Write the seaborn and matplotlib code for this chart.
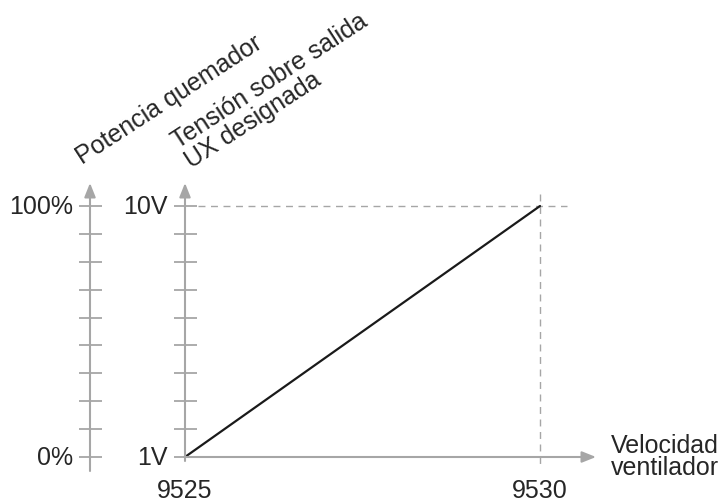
import numpy as np
import pandas as pd
import seaborn as sns
import matplotlib
matplotlib.use("Agg")
import matplotlib.pyplot as plt

# data
speed = [9525, 9530]
voltage = [1, 10]
volt_ticks = list(range(1, 11))
volt_labels = {1: "1V", 10: "10V"}
power_labels = {1: "0%", 10: "100%"}
speed_labels = ["9525", "9530"]

sns.set_theme(style="white")
plt.rcParams['font.family'] = ['Liberation Sans', 'DejaVu Sans']

W, H = 727, 502
fig = plt.figure(figsize=(W / 100, H / 100), dpi=100)
ax = fig.add_axes([0, 0, 1, 1])

# pixel -> data mapping (x: 71 px per rpm step, y: 27.9 px per volt)
sx = 355 / 5
sy = 251 / 9
x0 = speed[0] - 185 / sx
y_top = voltage[0] + 458 / sy
ax.set_xlim(x0, x0 + W / sx)
ax.set_ylim(y_top - H / sy, y_top)
ax.axis("off")

def px(x):
    return x0 + x / sx

def py(y):
    return y_top - y / sy

gray = "#a6a6a6"
fs = 18
arrow = dict(arrowstyle="-|>,head_length=0.7,head_width=0.28", color=gray,
             lw=1.5, mutation_scale=12, shrinkA=0, shrinkB=0)

# power axis (left)
xa = px(90)
ax.annotate("", xy=(xa, py(184)), xytext=(xa, py(472)), arrowprops=arrow)
# voltage axis
xb = speed[0]
ax.annotate("", xy=(xb, py(184)), xytext=(xb, py(462)), arrowprops=arrow)
# speed axis
ax.annotate("", xy=(px(596), voltage[0]), xytext=(xb, voltage[0]), arrowprops=arrow)

half = 11.5 / sx
ax.hlines(volt_ticks, xa - half, xa + half, color=gray, lw=1.3)
ax.hlines(volt_ticks, xb - half, xb + half, color=gray, lw=1.3)

# dashed guides
ax.plot([xb + half + 0.02, px(567)], [voltage[1], voltage[1]], color=gray,
        lw=1, dashes=(5, 4))
ax.plot([speed[1], speed[1]], [py(195), py(469)], color=gray, lw=1, dashes=(5, 4))

# characteristic line
df = pd.DataFrame({"speed": speed, "voltage": voltage})
sns.lineplot(data=df, x="speed", y="voltage", ax=ax, color="#1a1a1a", lw=1.6)

# tick labels
for v, lab in power_labels.items():
    ax.text(xa - 17 / sx, v, lab, ha="right", va="center", fontsize=fs)
for v, lab in volt_labels.items():
    ax.text(xb - 17 / sx, v, lab, ha="right", va="center", fontsize=fs)
for s, lab in zip(speed, speed_labels):
    ax.text(s, py(491), lab, ha="center", va="center", fontsize=fs)

ax.text(px(611), py(457), "Velocidad\nventilador", ha="left", va="center",
        fontsize=fs, linespacing=0.92)

# rotated axis titles
fig.text(82 / W, 1 - 165 / H, "Potencia quemador", rotation=33,
         rotation_mode="anchor", ha="left", va="baseline", fontsize=fs)
fig.text(194 / W, 1 - 173 / H, "Tensión sobre salida\nUX designada", rotation=33,
         rotation_mode="anchor", ha="left", va="bottom", fontsize=fs,
         linespacing=0.98, multialignment="left")

fig.savefig("out.png", dpi=100)
